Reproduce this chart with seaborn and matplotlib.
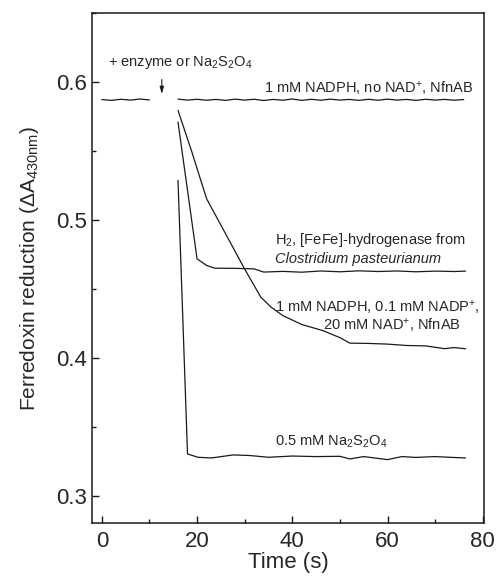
import numpy as np
import pandas as pd
import seaborn as sns
import matplotlib.pyplot as plt
from matplotlib.ticker import MultipleLocator

# control: 1 mM NADPH, no NAD+ (broken at the injection)
ctrl_t_pre = [0, 2, 4, 6, 8, 10]
ctrl_y_pre = [0.5875, 0.5869, 0.5877, 0.5871, 0.5879, 0.5872]
ctrl_t_post = [16, 18, 20, 22, 24, 26, 28, 30, 32, 34, 36, 38, 40, 42, 44, 46,
               48, 50, 52, 54, 56, 58, 60, 62, 64, 66, 68, 70, 72, 74, 76]
ctrl_y_post = [0.5878, 0.5871, 0.5877, 0.5870, 0.5876, 0.5869, 0.5878, 0.5871,
               0.5877, 0.5868, 0.5876, 0.5870, 0.5879, 0.5869, 0.5877, 0.5870,
               0.5878, 0.5871, 0.5876, 0.5869, 0.5877, 0.5870, 0.5878, 0.5871,
               0.5876, 0.5869, 0.5877, 0.5871, 0.5876, 0.5870, 0.5875]

# H2, [FeFe]-hydrogenase
hyd_t = [16.0, 20.0, 22.0, 23.7, 28, 32, 34, 38, 42, 46, 50, 54, 58, 62, 66, 70, 74, 76.4]
hyd_y = [0.5712, 0.4721, 0.4673, 0.4653, 0.4652, 0.4648, 0.4625, 0.4630, 0.4624,
         0.4633, 0.4627, 0.4634, 0.4629, 0.4633, 0.4627, 0.4632, 0.4629, 0.4632]

# 1 mM NADPH, 0.1 mM NADP+, 20 mM NAD+, NfnAB
nfn_t = [16.0, 18.8, 22.0, 26, 30, 33.4, 35.5, 38, 42, 46.5, 50, 52.1, 56, 60,
         64, 68, 72, 74, 76.4]
nfn_y = [0.5797, 0.5507, 0.5157, 0.4902, 0.4647, 0.4443, 0.4372, 0.4310, 0.4245,
         0.4200, 0.4150, 0.4110, 0.4108, 0.4103, 0.4093, 0.4090, 0.4070, 0.4078,
         0.4069]

# 0.5 mM Na2S2O4
dit_t = [16.0, 18.0, 20.2, 23, 27.6, 31, 35, 40, 45, 50, 52.1, 55, 60, 63, 66,
         70, 73, 76.4]
dit_y = [0.529, 0.3307, 0.3283, 0.3278, 0.3300, 0.3296, 0.3283, 0.3292, 0.3288,
         0.3290, 0.3271, 0.3288, 0.3266, 0.3288, 0.3282, 0.3288, 0.3283, 0.3278]

segments = [("ctrl_pre", ctrl_t_pre, ctrl_y_pre), ("ctrl_post", ctrl_t_post, ctrl_y_post),
            ("hyd", hyd_t, hyd_y), ("nfn", nfn_t, nfn_y), ("dit", dit_t, dit_y)]
df = pd.concat([pd.DataFrame({"time": t, "dA": y, "seg": name}) for name, t, y in segments],
               ignore_index=True)

sns.set_theme(style="ticks")
plt.rcParams["font.family"] = ["Liberation Sans", "DejaVu Sans"]
plt.rcParams["mathtext.fontset"] = "custom"
plt.rcParams["mathtext.rm"] = "Liberation Sans"
plt.rcParams["mathtext.it"] = "Liberation Sans:italic"
plt.rcParams["mathtext.bf"] = "Liberation Sans:bold"

fig = plt.figure(figsize=(4.97, 5.78), dpi=100)
ax = fig.add_axes([0.1857, 0.0952, 0.7875, 0.8818])

sns.lineplot(data=df, x="time", y="dA", units="seg", estimator=None,
             color="#1a1a1a", lw=0.9, ax=ax, sort=False)

ax.set_xlim(-2, 80.2)
ax.set_ylim(0.2807, 0.65)
ax.xaxis.set_major_locator(MultipleLocator(20))
ax.xaxis.set_minor_locator(MultipleLocator(10))
ax.yaxis.set_major_locator(MultipleLocator(0.1))
ax.yaxis.set_minor_locator(MultipleLocator(0.05))
ax.tick_params(which="both", direction="in", top=False, right=False,
               labelsize=16, width=1.0, color="#1a1a1a")
ax.tick_params(which="major", length=5)
ax.tick_params(which="minor", length=3)
ax.tick_params(axis="x", pad=6)
ax.tick_params(axis="y", pad=4)
for s in ax.spines.values():
    s.set_linewidth(1.1)
    s.set_color("#1a1a1a")

ax.set_xlabel("Time (s)", fontsize=16, labelpad=0)
ax.set_ylabel("Ferredoxin reduction (ΔA$_{\\mathrm{430nm}}$)", fontsize=15, labelpad=11)

fs = 10.5
ax.text(1.2, 0.6147, "+ enzyme or Na$_2$S$_2$O$_4$", fontsize=fs, va="center", ha="left")
ax.annotate("", xy=(12.6, 0.5915), xytext=(12.6, 0.6020),
            arrowprops=dict(arrowstyle="-|>,head_length=0.35,head_width=0.1",
                            color="#1a1a1a", lw=0.8, shrinkA=0, shrinkB=0))
ax.text(78.0, 0.5956, "1 mM NADPH, no NAD$^{+}$, NfnAB", fontsize=fs, va="center", ha="right")
ax.text(36.4, 0.4859, "H$_2$, [FeFe]-hydrogenase from", fontsize=fs, va="center", ha="left")
ax.text(36.4, 0.4722, "Clostridium pasteurianum", fontsize=fs, va="center", ha="left",
        style="italic")
ax.text(36.4, 0.4370, "1 mM NADPH, 0.1 mM NADP$^{+}$,", fontsize=fs, va="center", ha="left")
ax.text(46.5, 0.4238, "20 mM NAD$^{+}$, NfnAB", fontsize=fs, va="center", ha="left")
ax.text(36.4, 0.3392, "0.5 mM Na$_2$S$_2$O$_4$", fontsize=fs, va="center", ha="left")

fig.savefig("out.png", dpi=100)
